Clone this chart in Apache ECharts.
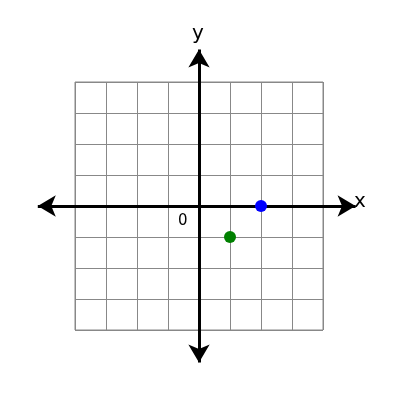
<!DOCTYPE html>
<html>
<head>
<meta charset="utf-8">
<script src="https://cdn.jsdelivr.net/npm/echarts@6/dist/echarts.min.js"></script>
<style>html,body{margin:0;padding:0;background:#fff}#chart{width:400px;height:400px}</style>
</head>
<body>
<div id="chart"></div>
<script>
var bluePoints = [[2, 0]];
var greenPoints = [[1, -1]];
var gridMin = -4, gridMax = 4;
var xArrow = [-5.2, 5.05];
var yArrow = [-5.05, 5.05];

var chart = echarts.init(document.getElementById('chart'));
var unit = 31, ox = 199, oy = 206;
var hiddenAxis = {axisLine:{show:false}, axisTick:{show:false}, axisLabel:{show:false}};
chart.setOption({
    animation: false,
    grid: [
        {left: ox + gridMin * unit, top: oy - gridMax * unit, width: (gridMax - gridMin) * unit, height: (gridMax - gridMin) * unit,
         show: true, borderColor: '#888', borderWidth: 1},
        {left: ox + xArrow[0] * unit, top: oy - yArrow[1] * unit, width: (xArrow[1] - xArrow[0]) * unit, height: (yArrow[1] - yArrow[0]) * unit}
    ],
    xAxis: [
        Object.assign({gridIndex: 0, type: 'value', min: gridMin, max: gridMax, interval: 1, splitLine: {lineStyle: {color: '#888'}}}, hiddenAxis),
        Object.assign({gridIndex: 1, type: 'value', min: xArrow[0], max: xArrow[1], splitLine: {show: false}}, hiddenAxis)
    ],
    yAxis: [
        Object.assign({gridIndex: 0, type: 'value', min: gridMin, max: gridMax, interval: 1, splitLine: {lineStyle: {color: '#888'}}}, hiddenAxis),
        Object.assign({gridIndex: 1, type: 'value', min: yArrow[0], max: yArrow[1], splitLine: {show: false}}, hiddenAxis)
    ],
    series: [
        {type: 'scatter', xAxisIndex: 1, yAxisIndex: 1, data: [], silent: true,
         markLine: {silent: true, symbol: ['arrow', 'arrow'], symbolSize: [16, 18],
             lineStyle: {color: '#000', width: 3, type: 'solid'}, label: {show: false},
             data: [
                 [{coord: [xArrow[0], 0]}, {coord: [xArrow[1], 0]}],
                 [{coord: [0, yArrow[0]]}, {coord: [0, yArrow[1]]}]
             ]}},
        {type: 'scatter', xAxisIndex: 1, yAxisIndex: 1, data: bluePoints, symbolSize: 12, itemStyle: {color: '#0000ff', opacity: 1}, z: 10},
        {type: 'scatter', xAxisIndex: 1, yAxisIndex: 1, data: greenPoints, symbolSize: 12, itemStyle: {color: '#008000', opacity: 1}, z: 10}
    ],
    graphic: [
        {type: 'text', left: 354, top: 192, style: {text: 'x', fontSize: 20, fontFamily: 'DejaVu Sans', fill: '#000'}},
        {type: 'text', left: 192, top: 24, style: {text: 'y', fontSize: 20, fontFamily: 'DejaVu Sans', fill: '#000'}},
        {type: 'text', left: 178, top: 214, style: {text: '0', fontSize: 15, fontFamily: 'DejaVu Sans', fill: '#000'}}
    ]
});
</script>
</body>
</html>
